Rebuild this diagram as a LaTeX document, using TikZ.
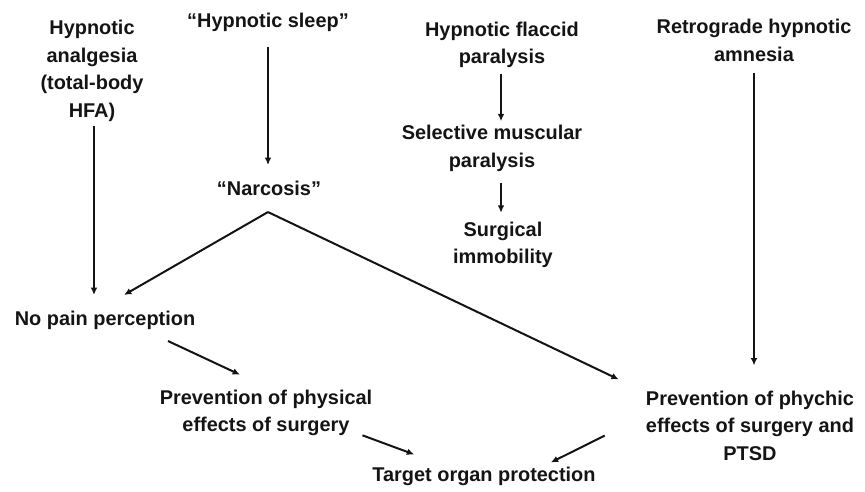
\documentclass[tikz,border=0pt]{standalone}
\usepackage{fontspec}
\setmainfont{Liberation Sans}
\usetikzlibrary{arrows.meta, calc}

\begin{document}
\begin{tikzpicture}[x=0.3mm, y=-0.3mm, font=\bfseries\fontsize{17}{23.5}\selectfont,
		lbl/.style={align=center, inner sep=0pt, text=inkBlack},
		arr/.style={draw=inkBlack, line width=0.6mm, -{Latex[length=2.2mm, width=2mm]}}]
		
		% Define colors
		
		\definecolor{inkBlack}{RGB}{20,20,20}
		
		% Fix the page size (pixel grid, y grows downwards)
		
		\useasboundingbox (0,0) rectangle (865,492);
		
		% Top row: the four hypnotic phenomena
		
		\node[lbl] (analg) at (92,71) {Hypnotic\\analgesia\\(total-body\\HFA)};
		
		\node[lbl] (sleep) at (268,22) {“Hypnotic sleep”};
		
		\node[lbl] (flaccid) at (502,45) {Hypnotic flaccid\\paralysis};
		
		\node[lbl] (retro) at (754,40.5) {Retrograde hypnotic\\amnesia};
		
		% Middle column
		
		\node[lbl] (narc) at (269,188.5) {“Narcosis”};
		
		\node[lbl] (muscle) at (492,148.5) {Selective muscular\\paralysis};
		
		\node[lbl] (immob) at (503,245) {Surgical\\immobility};
		
		% Effects
		
		\node[lbl] (nopain) at (105,320.5) {No pain perception};
		
		\node[lbl] (physical) at (266,413) {Prevention of physical\\effects of surgery};
		
		\node[lbl] (psychic) at (750,425.5) {Prevention of phychic\\effects of surgery and\\PTSD};
		
		\node[lbl] (target) at (484,476) {Target organ protection};
		
		% Arrows
		
		\draw[arr] ($(analg.south)+(2,4)$) -- ($(nopain.north)+(-11,-16)$);
		
		\draw[arr] ($(sleep.south)+(0,15)$) -- ($(narc.north)+(-1,-16)$);
		
		\draw[arr] ($(flaccid.south)+(-1,6)$) -- ($(muscle.north)+(9,-4)$);
		
		\draw[arr] ($(muscle.south)+(9,11)$) -- ($(immob.north)+(-2,-9)$);
		
		\draw[arr] ($(retro.south)+(0,11)$) -- ($(psychic.north)+(4,-25)$);
		
		\draw[arr] ($(narc.south)+(-1,16)$) -- ($(nopain.north)+(19,-16)$);
		
		\draw[arr] ($(narc.south)+(-1,16)$) -- ($(psychic.north west)+(-27,-11)$);
		
		\draw[arr] ($(nopain.south)+(63,11)$) -- ($(physical.north)+(-26,-15)$);
		
		\draw[arr] ($(physical.south east)+(-10,-1)$) -- ($(target.north west)+(42,-12)$);
		
		\draw[arr] ($(psychic.south west)+(-41,-25)$) -- ($(target.north east)+(-45,-4)$);
		
	\end{tikzpicture}
\end{document}
